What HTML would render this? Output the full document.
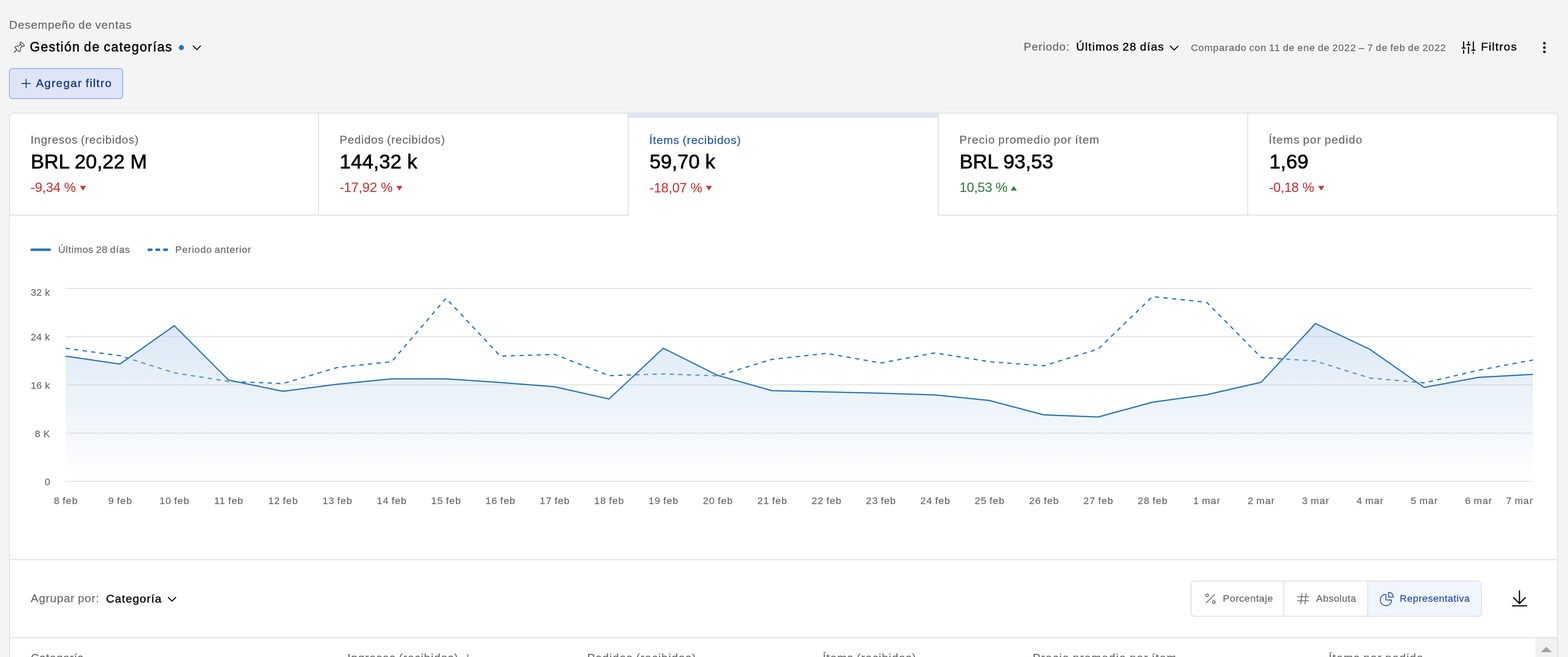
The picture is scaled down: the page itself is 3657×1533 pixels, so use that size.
<!DOCTYPE html>
<html lang="es">
<head>
<meta charset="utf-8">
<title>Desempeño de ventas – Gestión de categorías</title>
<style>
*{box-sizing:border-box;margin:0;padding:0}
html,body{width:3657px;height:1533px;overflow:hidden;background:#f4f4f4}
body{position:relative;font-family:"Liberation Sans",Arial,sans-serif}
.t{position:absolute;white-space:nowrap;line-height:1;font-weight:400;display:block}
.abs{position:absolute}
svg{position:absolute;overflow:visible}
h1.t{font-weight:400}
button{font-weight:400;line-height:1;text-align:left}
</style>
</head>
<body>

<header>
<div class="t" style="left:21.16px;top:45.17px;font-size:26.67px;color:#696969;letter-spacing:1.220px;word-spacing:-1.60px;-webkit-text-stroke:0.3px #696969;">Desempeño de ventas</div>
<svg width="30" height="30" style="left:30px;top:95px" viewBox="30 95 30 30" fill="none" stroke="#4b4b4b" stroke-width="1.9" stroke-linecap="round" stroke-linejoin="round">
<path d="M33 122.2 L39 116.3"/>
<path d="M47.2 104 L43.6 107.6 L38.2 107.6 Q36.6 107.6 35.6 108.8 Q34.2 110.6 35.6 112 L43.3 119.7 Q44.7 121 46 119.8 Q47.6 118.4 47.6 116.6 L47.6 112 L51 108.2"/>
<rect x="45.5" y="101.1" width="12.2" height="4.8" rx="2.4" transform="rotate(45 51.6 103.5)"/>
</svg>
<h1 class="t" style="left:69.42px;top:94.20px;font-size:30.47px;color:#0b0b0b;letter-spacing:1.824px;word-spacing:-1.60px;-webkit-text-stroke:0.8px #0b0b0b;">Gestión de categorías</h1>
<span class="abs" style="left:416.9px;top:104.9px;width:12.2px;height:12.2px;border-radius:50%;background:#2b77b7"></span>
<svg width="24" height="16" style="left:447px;top:103px" viewBox="447 103 24 16" fill="none" stroke="#0b0b0b" stroke-width="2.4"><path d="M449.9 106.7 L459.1 115.9 L468.3 106.7"/></svg>
<span class="t" style="left:2387.46px;top:96.17px;font-size:26.67px;color:#696969;letter-spacing:1.018px;word-spacing:-1.60px;-webkit-text-stroke:0.3px #696969;">Periodo:</span>
<span class="t" style="left:2509.79px;top:96.17px;font-size:26.67px;color:#0b0b0b;letter-spacing:1.708px;word-spacing:-1.60px;-webkit-text-stroke:0.7px #0b0b0b;">Últimos 28 días</span>
<svg width="24" height="16" style="left:2726px;top:103px" viewBox="2726 103 24 16" fill="none" stroke="#0b0b0b" stroke-width="2.4"><path d="M2728.6 106.9 L2738.4 116.6 L2748.2 106.9"/></svg>
<span class="t" style="left:2777.49px;top:100.15px;font-size:22.86px;color:#696969;letter-spacing:1.200px;word-spacing:-1.60px;-webkit-text-stroke:0.3px #696969;">Comparado con 11 de ene de 2022 – 7 de feb de 2022</span>
<svg width="40" height="36" style="left:3405px;top:93px" viewBox="3405 93 40 36" fill="none" stroke="#0b0b0b" stroke-width="2.8" stroke-linecap="round">
<path d="M3413.6 97.6 V112.2 M3409.9 112.2 H3417.5 M3413.6 117.6 V124.2"/>
<path d="M3425 97.6 V104.5 M3421.4 104.5 H3428.8 M3425 110 V124.2"/>
<path d="M3436.3 97.6 V117.3 M3432.6 117.3 H3440.1 M3436.3 122.6 V124.2"/>
</svg>
<span class="t" style="left:3454.06px;top:96.12px;font-size:26.67px;color:#0b0b0b;letter-spacing:1.779px;word-spacing:-1.60px;-webkit-text-stroke:0.7px #0b0b0b;">Filtros</span>
<svg width="10" height="30" style="left:3597px;top:96px" viewBox="3597 96 10 30" fill="#0b0b0b"><circle cx="3602" cy="101" r="3"/><circle cx="3602" cy="111" r="3"/><circle cx="3602" cy="121" r="3"/></svg>
</header>
<button class="abs" type="button" style="left:21px;top:159px;width:266px;height:72px;border:2px solid #93aef0;border-radius:8px;background:#dfe5f6;font-family:inherit;padding:0;overflow:visible">
<svg width="26" height="26" style="left:25px;top:21px" viewBox="48 182 26 26" fill="none" stroke="#1b3e8f" stroke-width="2.1"><path d="M50.2 194.9 H71.6 M60.9 184.2 V205.6"/></svg>
<span class="t" style="left:60.90px;top:19.62px;font-size:26.67px;color:#1b3e8f;letter-spacing:1.917px;word-spacing:-1.60px;-webkit-text-stroke:0.7px #1b3e8f;">Agregar filtro</span>
</button>
<div class="abs" style="left:21px;top:263px;width:6px;height:6px;background:#fbfbfb"></div>
<main class="abs" style="left:21px;top:263px;width:3613px;height:1400px;background:#fff;border:2px solid #dedede;border-radius:9px 9px 0 0"></main>
<div class="abs" style="left:21px;top:503px;width:2px;height:802px;background:#e0e1e6"></div>
<div class="abs" style="left:3632px;top:503px;width:2px;height:802px;background:#e0e1e6"></div>
<div class="abs" style="left:23px;top:501px;width:1443px;height:2px;background:#dedede"></div>
<div class="abs" style="left:2187px;top:501px;width:1445px;height:2px;background:#dedede"></div>
<div class="abs" style="left:742px;top:265px;width:2px;height:238px;background:#dedede"></div>
<div class="abs" style="left:1464px;top:265px;width:2px;height:238px;background:#dedede"></div>
<div class="abs" style="left:2187px;top:265px;width:2px;height:238px;background:#dedede"></div>
<div class="abs" style="left:2909px;top:265px;width:2px;height:238px;background:#dedede"></div>
<div class="abs" style="left:1466px;top:265px;width:721px;height:10px;background:#dfe5f6"></div>
<section>
<span class="t" style="left:71.19px;top:312.92px;font-size:26.67px;color:#696969;letter-spacing:1.023px;word-spacing:-1.60px;-webkit-text-stroke:0.3px #696969;">Ingresos (recibidos)</span>
<span class="t" style="left:71.78px;top:353.65px;font-size:46.60px;color:#000;letter-spacing:0.083px;-webkit-text-stroke:1.0px #000;">BRL 20,22 M</span>
<span class="t" style="left:71.32px;top:422.36px;font-size:31.00px;color:#c8393b;letter-spacing:-0.194px;-webkit-text-stroke:0.2px #c8393b;">-9,34 %</span>
<svg width="16" height="13" style="left:186.0px;top:432.6px" viewBox="0 0 16 13"><path d="M0.3 0.8 H14.5 L7.4 11.8 Z" fill="#c8393b"/></svg>
</section>
<section>
<span class="t" style="left:791.96px;top:312.92px;font-size:26.67px;color:#696969;letter-spacing:1.059px;word-spacing:-1.60px;-webkit-text-stroke:0.3px #696969;">Pedidos (recibidos)</span>
<span class="t" style="left:792.35px;top:353.65px;font-size:46.60px;color:#000;letter-spacing:0.288px;-webkit-text-stroke:1.0px #000;">144,32 k</span>
<span class="t" style="left:791.82px;top:422.36px;font-size:31.00px;color:#c8393b;letter-spacing:-0.028px;-webkit-text-stroke:0.2px #c8393b;">-17,92 %</span>
<svg width="16" height="13" style="left:923.8px;top:432.6px" viewBox="0 0 16 13"><path d="M0.3 0.8 H14.5 L7.4 11.8 Z" fill="#c8393b"/></svg>
</section>
<section>
<span class="t" style="left:1514.30px;top:313.72px;font-size:26.67px;color:#2a55b0;letter-spacing:1.118px;word-spacing:-1.60px;-webkit-text-stroke:0.3px #2a55b0;">Ítems (recibidos)</span>
<span class="t" style="left:1514.98px;top:354.45px;font-size:46.60px;color:#000;letter-spacing:0.059px;-webkit-text-stroke:1.0px #000;">59,70 k</span>
<span class="t" style="left:1514.82px;top:423.16px;font-size:31.00px;color:#c8393b;letter-spacing:-0.128px;-webkit-text-stroke:0.2px #c8393b;">-18,07 %</span>
<svg width="16" height="13" style="left:1646.3px;top:433.4px" viewBox="0 0 16 13"><path d="M0.3 0.8 H14.5 L7.4 11.8 Z" fill="#c8393b"/></svg>
</section>
<section>
<span class="t" style="left:2237.46px;top:312.92px;font-size:26.67px;color:#696969;letter-spacing:1.359px;word-spacing:-1.60px;-webkit-text-stroke:0.3px #696969;">Precio promedio por ítem</span>
<span class="t" style="left:2237.98px;top:353.65px;font-size:46.60px;color:#000;letter-spacing:0.013px;-webkit-text-stroke:1.0px #000;">BRL 93,53</span>
<span class="t" style="left:2237.84px;top:422.36px;font-size:31.00px;color:#3a7d44;letter-spacing:-0.308px;-webkit-text-stroke:0.2px #3a7d44;">10,53 %</span>
<svg width="16" height="13" style="left:2357.4px;top:432.6px" viewBox="0 0 16 13"><path d="M0.3 11.8 H14.5 L7.4 0.8 Z" fill="#3a7d44"/></svg>
</section>
<section>
<span class="t" style="left:2959.10px;top:312.92px;font-size:26.67px;color:#696969;letter-spacing:1.491px;word-spacing:-1.60px;-webkit-text-stroke:0.3px #696969;">Ítems por pedido</span>
<span class="t" style="left:2960.55px;top:353.65px;font-size:46.60px;color:#000;letter-spacing:0.156px;-webkit-text-stroke:1.0px #000;">1,69</span>
<span class="t" style="left:2959.82px;top:422.36px;font-size:31.00px;color:#c8393b;letter-spacing:-0.277px;-webkit-text-stroke:0.2px #c8393b;">-0,18 %</span>
<svg width="16" height="13" style="left:3074.0px;top:432.6px" viewBox="0 0 16 13"><path d="M0.3 0.8 H14.5 L7.4 11.8 Z" fill="#c8393b"/></svg>
</section>
<svg width="3657" height="1533" style="left:0;top:0" viewBox="0 0 3657 1533">
<defs><linearGradient id="ag" x1="0" y1="0" x2="0" y2="1"><stop offset="0" stop-color="#b6d1ec" stop-opacity="0.5"/><stop offset="1" stop-color="#b6d1ec" stop-opacity="0"/></linearGradient></defs>
<path d="M74 582.8 H116" stroke="#2b77b7" stroke-width="6" stroke-linecap="round" fill="none"/>
<path d="M347 582.8 H353 M365 582.8 H371 M383 582.8 H389" stroke="#2b77b7" stroke-width="6" stroke-linecap="round" fill="none"/>
<path d="M153.0 673.0 H3575.0" stroke="#dedede" stroke-width="1.9" fill="none"/>
<path d="M153.0 785.5 H3575.0" stroke="#dedede" stroke-width="1.9" fill="none"/>
<path d="M153.0 898.0 H3575.0" stroke="#dedede" stroke-width="1.9" fill="none"/>
<path d="M153.0 1010.6 H3575.0" stroke="#dedede" stroke-width="1.9" fill="none"/>
<path d="M153.0 1123.2 H3575.0" stroke="#dedede" stroke-width="1.9" fill="none"/>
<polyline points="153.0,812.5 279.7,830.0 406.5,870.0 533.2,890.0 660.0,895.0 786.7,857.5 913.4,844.0 1040.2,696.0 1166.9,831.0 1293.7,827.0 1420.4,876.5 1547.1,872.5 1673.9,877.0 1800.6,838.5 1927.4,824.5 2054.1,847.0 2180.9,823.5 2307.6,844.0 2434.3,853.5 2561.1,814.5 2687.8,692.0 2814.6,705.5 2941.3,834.0 3068.0,842.5 3194.8,882.0 3321.5,893.5 3448.3,864.0 3575.0,840.0" fill="none" stroke="#2b77b7" stroke-width="2.9" stroke-dasharray="10 10" stroke-linejoin="round"/>
<polygon points="153.0,1123.2 153.0,831.0 279.7,849.5 406.5,760.0 533.2,887.0 660.0,913.0 786.7,896.5 913.4,884.0 1040.2,884.0 1166.9,892.5 1293.7,902.5 1420.4,931.0 1547.1,812.5 1673.9,876.0 1800.6,911.5 1927.4,914.5 2054.1,917.5 2180.9,921.5 2307.6,934.5 2434.3,968.0 2561.1,973.0 2687.8,938.5 2814.6,921.0 2941.3,892.0 3068.0,755.0 3194.8,815.0 3321.5,904.0 3448.3,880.5 3575.0,873.5 3575.0,1123.2" fill="url(#ag)" stroke="none"/>
<polyline points="153.0,831.0 279.7,849.5 406.5,760.0 533.2,887.0 660.0,913.0 786.7,896.5 913.4,884.0 1040.2,884.0 1166.9,892.5 1293.7,902.5 1420.4,931.0 1547.1,812.5 1673.9,876.0 1800.6,911.5 1927.4,914.5 2054.1,917.5 2180.9,921.5 2307.6,934.5 2434.3,968.0 2561.1,973.0 2687.8,938.5 2814.6,921.0 2941.3,892.0 3068.0,755.0 3194.8,815.0 3321.5,904.0 3448.3,880.5 3575.0,873.5" fill="none" stroke="#2b77b7" stroke-width="2.9" stroke-linejoin="miter"/>
</svg>
<span class="t" style="left:135.89px;top:570.65px;font-size:22.86px;color:#696969;letter-spacing:0.896px;word-spacing:-1.60px;-webkit-text-stroke:0.3px #696969;">Últimos 28 días</span>
<span class="t" style="left:408.77px;top:570.65px;font-size:22.86px;color:#696969;letter-spacing:1.033px;word-spacing:-1.60px;-webkit-text-stroke:0.3px #696969;">Periodo anterior</span>
<span class="t" style="left:71.70px;top:671.15px;font-size:22.86px;color:#696969;letter-spacing:0.400px;-webkit-text-stroke:0.3px #696969;">32 k</span>
<span class="t" style="left:71.70px;top:775.35px;font-size:22.86px;color:#696969;letter-spacing:0.400px;-webkit-text-stroke:0.3px #696969;">24 k</span>
<span class="t" style="left:71.70px;top:887.95px;font-size:22.86px;color:#696969;letter-spacing:0.400px;-webkit-text-stroke:0.3px #696969;">16 k</span>
<span class="t" style="left:81.29px;top:1000.55px;font-size:22.86px;color:#696969;letter-spacing:0.400px;-webkit-text-stroke:0.3px #696969;">8 K</span>
<span class="t" style="left:104.32px;top:1112.95px;font-size:22.86px;color:#696969;letter-spacing:0.400px;-webkit-text-stroke:0.3px #696969;">0</span>
<span class="t" style="left:125.86px;top:1157.25px;font-size:22.86px;color:#696969;letter-spacing:1.400px;word-spacing:-1.60px;-webkit-text-stroke:0.3px #696969;">8 feb</span>
<span class="t" style="left:252.56px;top:1157.25px;font-size:22.86px;color:#696969;letter-spacing:1.400px;word-spacing:-1.60px;-webkit-text-stroke:0.3px #696969;">9 feb</span>
<span class="t" style="left:371.91px;top:1157.25px;font-size:22.86px;color:#696969;letter-spacing:1.400px;word-spacing:-1.60px;-webkit-text-stroke:0.3px #696969;">10 feb</span>
<span class="t" style="left:499.50px;top:1157.25px;font-size:22.86px;color:#696969;letter-spacing:1.400px;word-spacing:-1.60px;-webkit-text-stroke:0.3px #696969;">11 feb</span>
<span class="t" style="left:625.39px;top:1157.25px;font-size:22.86px;color:#696969;letter-spacing:1.400px;word-spacing:-1.60px;-webkit-text-stroke:0.3px #696969;">12 feb</span>
<span class="t" style="left:752.13px;top:1157.25px;font-size:22.86px;color:#696969;letter-spacing:1.400px;word-spacing:-1.60px;-webkit-text-stroke:0.3px #696969;">13 feb</span>
<span class="t" style="left:878.87px;top:1157.25px;font-size:22.86px;color:#696969;letter-spacing:1.400px;word-spacing:-1.60px;-webkit-text-stroke:0.3px #696969;">14 feb</span>
<span class="t" style="left:1005.61px;top:1157.25px;font-size:22.86px;color:#696969;letter-spacing:1.400px;word-spacing:-1.60px;-webkit-text-stroke:0.3px #696969;">15 feb</span>
<span class="t" style="left:1132.36px;top:1157.25px;font-size:22.86px;color:#696969;letter-spacing:1.400px;word-spacing:-1.60px;-webkit-text-stroke:0.3px #696969;">16 feb</span>
<span class="t" style="left:1259.10px;top:1157.25px;font-size:22.86px;color:#696969;letter-spacing:1.400px;word-spacing:-1.60px;-webkit-text-stroke:0.3px #696969;">17 feb</span>
<span class="t" style="left:1385.84px;top:1157.25px;font-size:22.86px;color:#696969;letter-spacing:1.400px;word-spacing:-1.60px;-webkit-text-stroke:0.3px #696969;">18 feb</span>
<span class="t" style="left:1512.58px;top:1157.25px;font-size:22.86px;color:#696969;letter-spacing:1.400px;word-spacing:-1.60px;-webkit-text-stroke:0.3px #696969;">19 feb</span>
<span class="t" style="left:1639.61px;top:1157.25px;font-size:22.86px;color:#696969;letter-spacing:1.400px;word-spacing:-1.60px;-webkit-text-stroke:0.3px #696969;">20 feb</span>
<span class="t" style="left:1766.36px;top:1157.25px;font-size:22.86px;color:#696969;letter-spacing:1.400px;word-spacing:-1.60px;-webkit-text-stroke:0.3px #696969;">21 feb</span>
<span class="t" style="left:1893.10px;top:1157.25px;font-size:22.86px;color:#696969;letter-spacing:1.400px;word-spacing:-1.60px;-webkit-text-stroke:0.3px #696969;">22 feb</span>
<span class="t" style="left:2019.84px;top:1157.25px;font-size:22.86px;color:#696969;letter-spacing:1.400px;word-spacing:-1.60px;-webkit-text-stroke:0.3px #696969;">23 feb</span>
<span class="t" style="left:2146.58px;top:1157.25px;font-size:22.86px;color:#696969;letter-spacing:1.400px;word-spacing:-1.60px;-webkit-text-stroke:0.3px #696969;">24 feb</span>
<span class="t" style="left:2273.32px;top:1157.25px;font-size:22.86px;color:#696969;letter-spacing:1.400px;word-spacing:-1.60px;-webkit-text-stroke:0.3px #696969;">25 feb</span>
<span class="t" style="left:2400.06px;top:1157.25px;font-size:22.86px;color:#696969;letter-spacing:1.400px;word-spacing:-1.60px;-webkit-text-stroke:0.3px #696969;">26 feb</span>
<span class="t" style="left:2526.80px;top:1157.25px;font-size:22.86px;color:#696969;letter-spacing:1.400px;word-spacing:-1.60px;-webkit-text-stroke:0.3px #696969;">27 feb</span>
<span class="t" style="left:2653.54px;top:1157.25px;font-size:22.86px;color:#696969;letter-spacing:1.400px;word-spacing:-1.60px;-webkit-text-stroke:0.3px #696969;">28 feb</span>
<span class="t" style="left:2782.95px;top:1157.25px;font-size:22.86px;color:#696969;letter-spacing:1.400px;word-spacing:-1.60px;-webkit-text-stroke:0.3px #696969;">1 mar</span>
<span class="t" style="left:2909.99px;top:1157.25px;font-size:22.86px;color:#696969;letter-spacing:1.400px;word-spacing:-1.60px;-webkit-text-stroke:0.3px #696969;">2 mar</span>
<span class="t" style="left:3036.87px;top:1157.25px;font-size:22.86px;color:#696969;letter-spacing:1.400px;word-spacing:-1.60px;-webkit-text-stroke:0.3px #696969;">3 mar</span>
<span class="t" style="left:3163.78px;top:1157.25px;font-size:22.86px;color:#696969;letter-spacing:1.400px;word-spacing:-1.60px;-webkit-text-stroke:0.3px #696969;">4 mar</span>
<span class="t" style="left:3290.33px;top:1157.25px;font-size:22.86px;color:#696969;letter-spacing:1.400px;word-spacing:-1.60px;-webkit-text-stroke:0.3px #696969;">5 mar</span>
<span class="t" style="left:3416.95px;top:1157.25px;font-size:22.86px;color:#696969;letter-spacing:1.400px;word-spacing:-1.60px;-webkit-text-stroke:0.3px #696969;">6 mar</span>
<span class="t" style="left:3512.39px;top:1157.25px;font-size:22.86px;color:#696969;letter-spacing:1.400px;word-spacing:-1.60px;-webkit-text-stroke:0.3px #696969;">7 mar</span>
<div class="abs" style="left:23px;top:1305px;width:3609px;height:2px;background:#e0e1e6"></div>
<span class="t" style="left:71.85px;top:1383.17px;font-size:26.67px;color:#696969;letter-spacing:1.133px;word-spacing:-1.60px;-webkit-text-stroke:0.3px #696969;">Agrupar por:</span>
<span class="t" style="left:247.25px;top:1383.62px;font-size:26.67px;color:#0b0b0b;letter-spacing:1.491px;word-spacing:-1.60px;-webkit-text-stroke:0.7px #0b0b0b;">Categoría</span>
<svg width="24" height="16" style="left:389px;top:1389px" viewBox="389 1389 24 16" fill="none" stroke="#0b0b0b" stroke-width="2.4"><path d="M391.8 1393.2 L401.2 1402.6 L410.6 1393.2"/></svg>
<div class="abs" role="group" style="left:2777px;top:1355px;width:679px;height:84px;border:2px solid #dedede;border-radius:9px;background:#fff;overflow:hidden">
<div class="abs" style="left:411px;top:0;width:266px;height:80px;background:#f1f5fd"></div><div class="abs" style="left:214px;top:0;width:2px;height:80px;background:#dedede"></div><div class="abs" style="left:410px;top:0;width:2px;height:80px;background:#dedede"></div>
<svg width="30" height="30" style="left:29px;top:25px" viewBox="2808 1382 30 30" fill="none" stroke="#6b6b6b" stroke-width="2">
<path d="M2812.6 1407 L2833.6 1386.6"/><circle cx="2815.1" cy="1389.1" r="3.1"/><circle cx="2831" cy="1404.9" r="3.1"/></svg>
<span class="t" style="left:73.07px;top:27.75px;font-size:22.86px;color:#696969;letter-spacing:0.822px;word-spacing:-1.60px;-webkit-text-stroke:0.3px #696969;">Porcentaje</span>
<svg width="32" height="32" style="left:244px;top:24px" viewBox="3023 1381 32 32" fill="none" stroke="#6b6b6b" stroke-width="2">
<path d="M3026 1392.6 H3052.6 M3026 1401.8 H3052.6 M3036.6 1384.4 L3033.6 1409.8 M3046.4 1384.4 L3043.4 1409.8"/></svg>
<span class="t" style="left:290.61px;top:27.75px;font-size:22.86px;color:#696969;letter-spacing:0.589px;word-spacing:-1.60px;-webkit-text-stroke:0.3px #696969;">Absoluta</span>
<svg width="38" height="38" style="left:437px;top:22px" viewBox="3216 1379 38 38" fill="none" stroke="#244fae" stroke-width="2" stroke-linejoin="round">
<path d="M3232.4 1386.8 A13.2 13.2 0 1 0 3245.6 1400 H3232.4 Z"/>
<path d="M3238.3 1382.3 A10.7 10.7 0 0 1 3249.6 1393 H3238.3 Z"/></svg>
<span class="t" style="left:485.57px;top:27.75px;font-size:22.86px;color:#244fae;letter-spacing:0.724px;word-spacing:-1.60px;-webkit-text-stroke:0.3px #244fae;">Representativa</span>
</div>
<svg width="44" height="44" style="left:3522px;top:1374px" viewBox="3522 1374 44 44" fill="none" stroke="#0b0b0b" stroke-width="2.9" stroke-linecap="round" stroke-linejoin="round">
<path d="M3543.8 1379 V1408 M3530.2 1394.6 L3543.8 1408.2 L3557.4 1394.6 M3527.5 1413.6 H3560.5"/></svg>
<div class="abs" style="left:23px;top:1487px;width:3609px;height:2px;background:#dedede"></div>
<div class="abs" style="left:3581px;top:1489px;width:51px;height:44px;background:#f1f1f1"></div>
<svg width="28" height="14" style="left:3593px;top:1509px" viewBox="0 0 28 14"><path d="M0.5 12.8 L13.4 0.3 L26.3 12.8 Z" fill="#a3a0a8"/></svg>
<span class="t" style="left:71.80px;top:1522.42px;font-size:26.67px;color:#696969;letter-spacing:0.822px;word-spacing:-1.60px;-webkit-text-stroke:0.3px #696969;">Categoría</span>
<span class="t" style="left:810.19px;top:1522.42px;font-size:26.67px;color:#696969;letter-spacing:1.338px;word-spacing:-1.60px;-webkit-text-stroke:0.3px #696969;">Ingresos (recibidos)</span>
<span class="t" style="left:1369.46px;top:1522.42px;font-size:26.67px;color:#696969;letter-spacing:1.476px;word-spacing:-1.60px;-webkit-text-stroke:0.3px #696969;">Pedidos (recibidos)</span>
<span class="t" style="left:1918.80px;top:1522.42px;font-size:26.67px;color:#696969;letter-spacing:1.368px;word-spacing:-1.60px;-webkit-text-stroke:0.3px #696969;">Ítems (recibidos)</span>
<span class="t" style="left:2408.46px;top:1522.42px;font-size:26.67px;color:#696969;letter-spacing:1.750px;word-spacing:-1.60px;-webkit-text-stroke:0.3px #696969;">Precio promedio por ítem</span>
<span class="t" style="left:3098.80px;top:1522.42px;font-size:26.67px;color:#696969;letter-spacing:1.661px;word-spacing:-1.60px;-webkit-text-stroke:0.3px #696969;">Ítems por pedido</span>
<svg width="20" height="30" style="left:1081px;top:1524px" viewBox="1081 1524 20 30" fill="none" stroke="#6f6f6f" stroke-width="2"><path d="M1091 1526 V1546 M1083 1538 L1091 1546 L1099 1538"/></svg>
</body>
</html>
